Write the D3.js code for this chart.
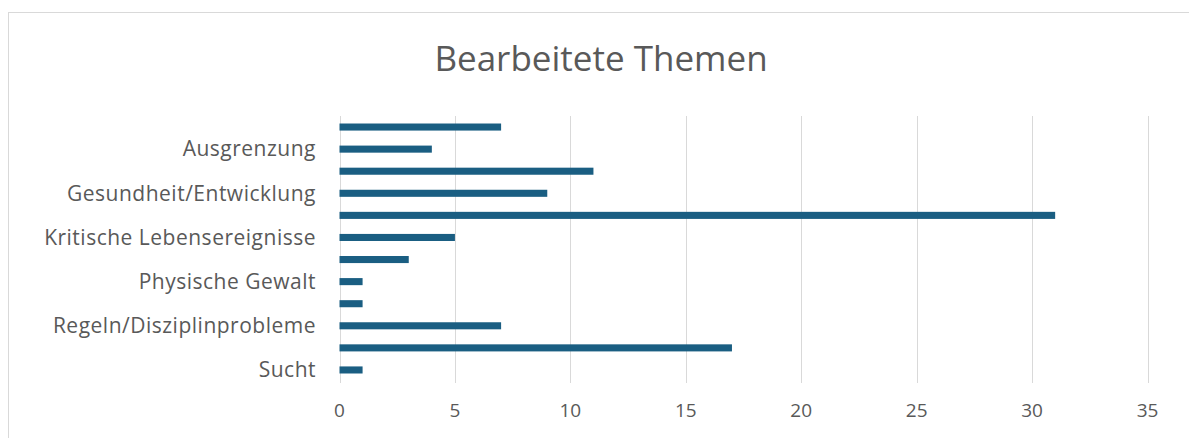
<!DOCTYPE html>
<html>
<head>
	<meta charset="utf-8">
	<title>Bearbeitete Themen</title>
	<script src="https://cdn.jsdelivr.net/npm/d3@7/dist/d3.min.js"></script>
	<style>
		body { margin: 0; background: #fff; }
		svg text { font-family: "Open Sans", sans-serif; fill: #595959; }
	</style>
</head>
<body>
	<svg id="chart" width="1189" height="438"></svg>

	<script>
		// categories top to bottom; only every other label is shown in the chart
		var categories = ['', 'Ausgrenzung', '', 'Gesundheit/Entwicklung', '', 'Kritische Lebensereignisse',
			'', 'Physische Gewalt', '', 'Regeln/Disziplinprobleme', '', 'Sucht'];
		var values = [7, 4, 11, 9, 31, 5, 3, 1, 1, 7, 17, 1];
		var xTicks = [0, 5, 10, 15, 20, 25, 30, 35];

		var svg = d3.select('#chart');

		// chart frame
		svg.append('rect')
			.attr('x', 8.5).attr('y', 12.5)
			.attr('width', 1200).attr('height', 500)
			.attr('fill', 'white')
			.attr('stroke', '#d9d9d9');

		svg.append('text')
			.attr('x', 601).attr('y', 71)
			.attr('text-anchor', 'middle')
			.style('font-size', '35px')
			.text('Bearbeitete Themen');

		var x = d3.scaleLinear().domain([0, 35]).range([339.5, 1147.5]);
		var y = d3.scaleBand()
			.domain(d3.range(values.length))
			.range([116, 381])
			.paddingInner(0.68)
			.paddingOuter(0.34);

		// vertical gridlines
		svg.append('g')
			.selectAll('line')
			.data(xTicks)
			.join('line')
			.attr('x1', d => Math.round(x(d)) + 0.5)
			.attr('x2', d => Math.round(x(d)) + 0.5)
			.attr('y1', 116).attr('y2', 383)
			.attr('stroke', '#d9d9d9')
			.attr('stroke-width', 1);

		svg.append('g')
			.selectAll('rect')
			.data(values)
			.join('rect')
			.attr('x', x(0))
			.attr('y', (d, i) => y(i))
			.attr('width', d => x(d) - x(0))
			.attr('height', y.bandwidth())
			.attr('fill', '#1a5e82');

		// x tick labels
		svg.append('g')
			.selectAll('text')
			.data(xTicks)
			.join('text')
			.attr('x', d => x(d))
			.attr('y', 417)
			.attr('text-anchor', 'middle')
			.style('font-size', '19px')
			.text(d => d);

		// category labels
		svg.append('g')
			.selectAll('text')
			.data(categories)
			.join('text')
			.attr('x', 316)
			.attr('y', (d, i) => y(i) + y.bandwidth() / 2)
			.attr('dy', '0.35em')
			.attr('text-anchor', 'end')
			.style('font-size', '21px')
			.style('letter-spacing', '0.5px')
			.text(d => d);
	</script>
</body>
</html>
